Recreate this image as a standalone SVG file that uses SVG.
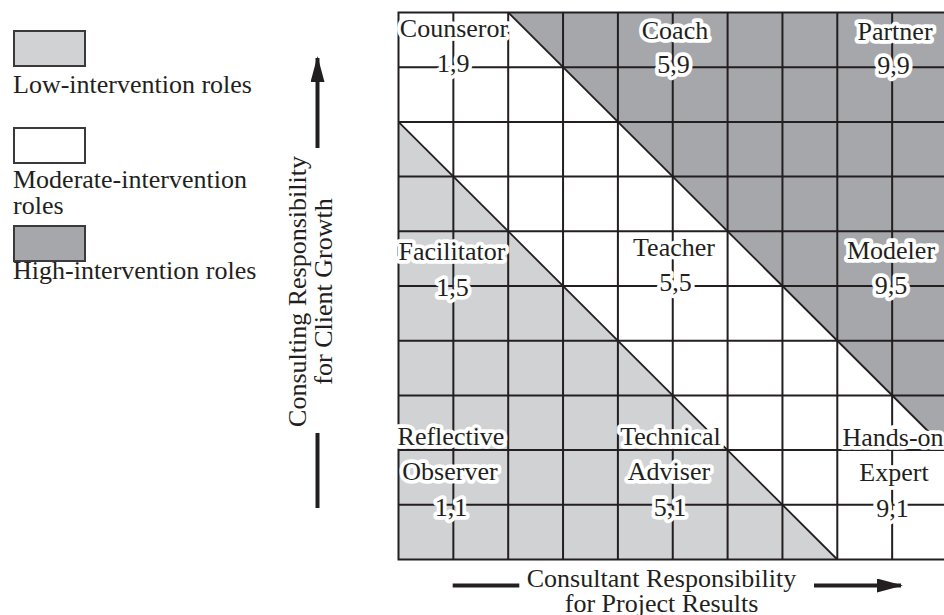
<svg xmlns="http://www.w3.org/2000/svg" width="944" height="615" viewBox="0 0 944 615" font-family="'Liberation Serif', 'DejaVu Serif', serif" font-size="26">
  <style>
    text { font-family: 'Liberation Serif', 'DejaVu Serif', serif; font-size: 26px; fill: #231f20; }
    .lbl { text-anchor: middle; stroke: #ffffff; stroke-width: 7.5; stroke-linejoin: round; paint-order: stroke; }
    .mid { text-anchor: middle; }
    .grid { stroke: #231f20; stroke-width: 2; fill: none; }
    .diag { stroke: #231f20; stroke-width: 1.8; fill: none; }
    .low { fill: #d1d2d4; }
    .high { fill: #a6a7ab; }
    .key { stroke: #3a3a3c; stroke-width: 2; }
    .axis { stroke: #231f20; stroke-width: 4; fill: none; }
  </style>
  <defs>
    <marker id="head" markerUnits="userSpaceOnUse" markerWidth="26" markerHeight="14" refX="24" refY="7" orient="auto">
      <path d="M0,0 L26,7 L0,14 Z" fill="#231f20"/>
    </marker>
  </defs>

  <rect width="944" height="615" fill="#ffffff"/>

  <!-- legend -->
  <g id="legend">
    <g id="legend-low">
      <rect class="low key" x="14" y="31" width="71" height="35"/>
      <text x="13" y="92.5">Low-intervention roles</text>
    </g>
    <g id="legend-moderate">
      <rect class="key" fill="#ffffff" x="14" y="128" width="71" height="35"/>
      <text x="13" y="187.5">Moderate-intervention</text>
      <text x="13" y="213.5">roles</text>
    </g>
    <g id="legend-high">
      <rect class="high key" x="14" y="226" width="71" height="35"/>
      <text x="13" y="279">High-intervention roles</text>
    </g>
  </g>

  <!-- shaded regions of the 10 x 10 grid -->
  <g id="regions">
    <polygon class="high" points="508.2,12.5 947,12.5 947,450.1"/>
    <polygon class="low" points="398.5,121.9 837.3,559.5 398.5,559.5"/>
  </g>

  <!-- grid lines and region boundaries -->
  <g id="connectors">
    <path class="grid" d="M453.35,12.5V559.5 M508.2,12.5V559.5 M563.05,12.5V559.5 M617.9,12.5V559.5 M672.75,12.5V559.5 M727.6,12.5V559.5 M782.45,12.5V559.5 M837.3,12.5V559.5 M892.15,12.5V559.5"/>
    <path class="grid" d="M398.5,67.2H947 M398.5,121.9H947 M398.5,176.6H947 M398.5,231.3H947 M398.5,286H947 M398.5,340.7H947 M398.5,395.4H947 M398.5,450.1H947 M398.5,504.8H947"/>
    <rect class="grid" x="398.5" y="12.5" width="548.5" height="547" stroke-width="2.5"/>
    <path class="diag" d="M508.2,12.5 L947,450.1"/>
    <path class="diag" d="M398.5,121.9 L837.3,559.5"/>
  </g>

  <!-- role labels -->
  <g id="counselor"><text class="lbl" x="454" y="37">Counseror</text><text class="lbl" x="453.3" y="72">1,9</text></g>
  <g id="coach"><text class="lbl" x="675" y="38.5">Coach</text><text class="lbl" x="673.5" y="72.5">5,9</text></g>
  <g id="partner"><text class="lbl" x="895" y="40">Partner</text><text class="lbl" x="893.5" y="74">9,9</text></g>
  <g id="facilitator"><text class="lbl" x="452" y="259.5">Facilitator</text><text class="lbl" x="452.5" y="296">1,5</text></g>
  <g id="teacher"><text class="lbl" x="674" y="255.5">Teacher</text><text class="lbl" x="675.5" y="291">5,5</text></g>
  <g id="modeler"><text class="lbl" x="891" y="259">Modeler</text><text class="lbl" x="891" y="293.5">9,5</text></g>
  <g id="reflective-observer"><text class="lbl" x="451" y="445">Reflective</text><text class="lbl" x="450" y="480">Observer</text><text class="lbl" x="451" y="516">1,1</text></g>
  <g id="technical-adviser"><text class="lbl" x="670.5" y="445">Technical</text><text class="lbl" x="669" y="480">Adviser</text><text class="lbl" x="670" y="516">5,1</text></g>
  <g id="hands-on-expert"><text class="lbl" x="893" y="446">Hands-on</text><text class="lbl" x="894" y="481">Expert</text><text class="lbl" x="892.5" y="517">9,1</text></g>

  <!-- vertical axis -->
  <g id="axis-y">
    <line class="axis" x1="317.5" y1="148" x2="317.5" y2="58" marker-end="url(#head)"/>
    <line class="axis" x1="317.5" y1="433" x2="317.5" y2="508"/>
    <g transform="translate(0,291.5) rotate(-90)">
      <text class="mid" x="0" y="306">Consulting Responsibility</text>
      <text class="mid" x="0" y="332">for Client Growth</text>
    </g>
  </g>

  <!-- horizontal axis -->
  <g id="axis-x">
    <line class="axis" x1="452.7" y1="585.5" x2="519.3" y2="585.5"/>
    <line class="axis" x1="814" y1="585.5" x2="901" y2="585.5" marker-end="url(#head)"/>
    <text class="mid" x="661.5" y="586.5">Consultant Responsibility</text>
    <text class="mid" x="661.5" y="611.5">for Project Results</text>
  </g>
</svg>
